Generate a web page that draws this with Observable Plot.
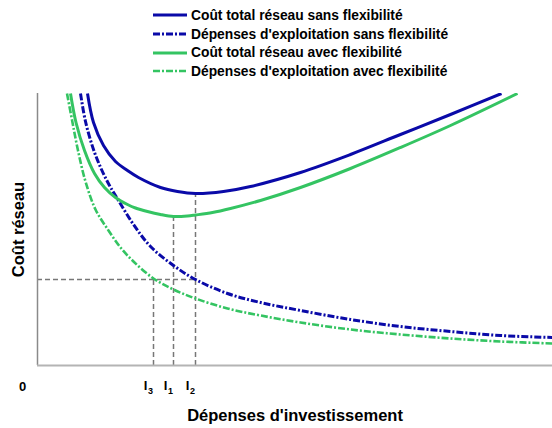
<!DOCTYPE html>
<html>
<head>
<meta charset="utf-8">
<script src="https://cdn.jsdelivr.net/npm/d3@7"></script>
<script src="https://cdn.jsdelivr.net/npm/@observablehq/plot@0.6"></script>
<style>
  html, body { margin: 0; padding: 0; background: #fff; }
  #wrap { position: relative; width: 552px; height: 428px; font-family: "Liberation Sans", Arial, sans-serif; }
  #legend { position: absolute; left: 153px; top: 6px; font-weight: bold; font-size: 13.8px; color: #000; }
  .row { display: flex; align-items: center; height: 18.7px; }
  .row svg { margin-right: 4px; }
  #chart { position: absolute; left: 0; top: 0; }
</style>
</head>
<body>
<div id="wrap">
  <div id="chart"></div>
  <div id="legend"></div>
</div>
<script>
// Series names
const seriesNames = [
  "Coût total réseau sans flexibilité",
  "Dépenses d'exploitation sans flexibilité",
  "Coût total réseau avec flexibilité",
  "Dépenses d'exploitation avec flexibilité"
];
// Curves (x = investment, y = cost), arbitrary units
const totalSansX = [50, 56, 66, 78, 90, 101, 123, 140, 158, 186, 213, 263, 313, 363, 413, 464];
const totalSansY = [272, 243, 220, 204, 195, 188, 178, 174, 172, 174, 179, 193, 211, 231, 251, 272];
const opexSansX = [43, 48, 56, 64, 72, 81, 96, 113, 136, 158, 190, 223, 263, 313, 363, 413, 463, 515];
const opexSansY = [272, 244, 216, 196, 180, 165, 141, 119, 100, 86, 72, 63, 55, 46, 39, 34, 30, 28];
const totalAvecX = [33, 38.5, 47, 57, 67, 78, 90, 98, 110, 123, 136, 150, 158, 175, 193, 223, 263, 313, 363, 413, 480];
const totalAvecY = [272, 243, 215, 192, 178, 168, 161, 157.5, 154, 151, 149, 149.5, 150.5, 153, 157, 165, 178, 197, 218, 240, 272];
const opexAvecX = [29.5, 35, 40.5, 48, 58, 71, 83, 96, 116, 136, 158, 190, 223, 263, 313, 363, 413, 463, 515];
const opexAvecY = [272, 243, 215, 184, 156, 135, 118, 104, 87, 76, 67, 57, 50, 43, 36, 31, 27, 24, 22];
// Investment levels I3, I1, I2 and reference cost level
const investSubs = ["3", "1", "2"];
const investLevels = [116, 136, 158];
const investTops = [86, 149, 172];
const opexLevel = 86;
const originLabel = "0";
const xTitle = "Dépenses d'investissement";
const yTitle = "Coût réseau";

const blue = "#0a0aa8";
const green = "#34c462";
const styles = [
  {stroke: blue, width: 3, dash: null},
  {stroke: blue, width: 3, dash: "7,2,2,2"},
  {stroke: green, width: 3, dash: null},
  {stroke: green, width: 2.6, dash: "7,2,2,2"}
];

const toPts = (xs, ys) => xs.map((x, i) => ({x, y: ys[i]}));
const series = [
  toPts(totalSansX, totalSansY),
  toPts(opexSansX, opexSansY),
  toPts(totalAvecX, totalAvecY),
  toPts(opexAvecX, opexAvecY)
];
const invest = investLevels.map((x, i) => ({x, top: investTops[i], sub: investSubs[i]}));

const lineMarks = series.map((pts, i) => Plot.line(pts, {
  x: "x", y: "y", curve: "catmull-rom", clip: true,
  stroke: styles[i].stroke, strokeWidth: styles[i].width,
  strokeDasharray: styles[i].dash, strokeLinecap: "butt"
}));

const txt = {fontWeight: "bold", fill: "#000", lineAnchor: "middle"};

const chart = Plot.plot({
  width: 552, height: 428,
  marginLeft: 37, marginRight: 0, marginTop: 93, marginBottom: 63,
  style: {fontFamily: "'Liberation Sans', Arial, sans-serif", background: "transparent"},
  x: {domain: [0, 515], axis: null},
  y: {domain: [0, 272], axis: null},
  marks: [
    Plot.ruleY([opexLevel], {x1: 0, x2: investLevels[2], stroke: "#777", strokeWidth: 1.5, strokeDasharray: "5,3"}),
    Plot.ruleX(invest, {x: "x", y1: 0, y2: "top", stroke: "#777", strokeWidth: 1.5, strokeDasharray: "5,3"}),
    ...lineMarks,
    Plot.ruleX([0], {stroke: "#8a8a8a", strokeWidth: 1.5}),
    Plot.ruleY([0], {stroke: "#b4b4b4", strokeWidth: 2}),
    Plot.text([originLabel], {...txt, frameAnchor: "bottom-left", textAnchor: "middle", dx: -15, dy: 21, fontSize: 13}),
    Plot.text(invest, {...txt, x: "x", frameAnchor: "bottom", text: () => "I", dx: -8, dy: 20, fontSize: 13}),
    Plot.text(invest, {...txt, x: "x", frameAnchor: "bottom", text: "sub", dx: -3, dy: 26, fontSize: 9}),
    Plot.text([xTitle], {...txt, frameAnchor: "bottom", dy: 50, fontSize: 16.5}),
    Plot.text([yTitle], {...txt, frameAnchor: "left", textAnchor: "middle", dx: -19, rotate: -90, fontSize: 16.5})
  ]
});
document.getElementById("chart").appendChild(chart);

// Legend
const legend = document.getElementById("legend");
seriesNames.forEach((name, i) => {
  const row = document.createElement("div");
  row.className = "row";
  const s = styles[i];
  row.innerHTML = `<svg width="34" height="8"><line x1="0" y1="4" x2="34" y2="4" stroke="${s.stroke}" stroke-width="${s.width}" ${s.dash ? `stroke-dasharray="${s.dash}"` : ""}/></svg><span>${name}</span>`;
  legend.appendChild(row);
});
</script>
</body>
</html>
